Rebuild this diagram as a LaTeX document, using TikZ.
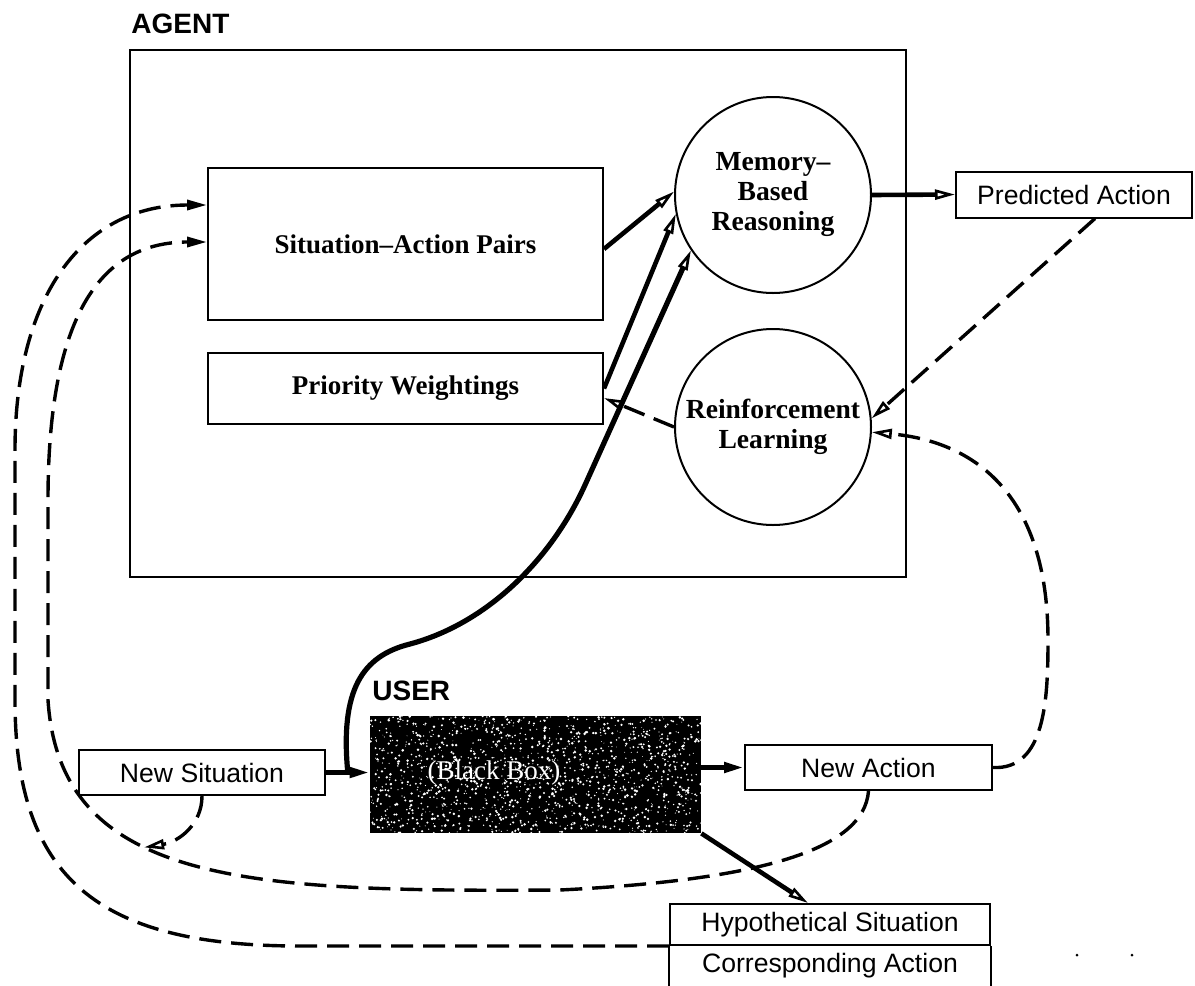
\documentclass[tikz,border=0pt]{standalone}
\usepackage{fontspec}
\setmainfont{Liberation Serif}
\newfontfamily\labelsans{Liberation Sans}
\usetikzlibrary{arrows.meta,calc}

\begin{document}
\begin{tikzpicture}[x=0.5pt,y=-0.5pt,
  frame/.style={draw,line width=1pt},
  sansbox/.style={frame,inner sep=0pt,font=\labelsans\fontsize{13.3}{16}\selectfont},
  serifbox/.style={frame,inner sep=0pt,font=\bfseries\fontsize{13.5}{16}\selectfont},
  proc/.style={frame,circle,inner sep=0pt,minimum size=98pt,align=center,
               font=\bfseries\fontsize{13.8}{15}\selectfont},
  heading/.style={anchor=base west,inner sep=0pt,font=\labelsans\bfseries\fontsize{14}{16}\selectfont},
  openhead/.tip={Triangle[open,length=10pt,width=5pt,line width=1.3pt]},
  fullhead/.tip={Triangle[length=10pt,width=5pt]},
  flow/.style={line width=2.3pt,-openhead},
  flowfilled/.style={line width=2.3pt,-fullhead},
  feedback/.style={line width=1.7pt,dash pattern=on 11pt off 5pt,-openhead},
  feedbackfilled/.style={line width=1.7pt,dash pattern=on 11pt off 5pt,-fullhead}
]
\useasboundingbox (0,0) rectangle (1195,986);

% ---------- agent ----------
\node[heading] (agentlbl) at (131,33) {AGENT};
\node[frame,inner sep=0pt,minimum width=388pt,minimum height=263.5pt] (agent) at (518,313.5) {};
\node[serifbox,minimum width=197.5pt,minimum height=76pt] (sa) at (405.5,244) {Situation\textendash Action Pairs};
\node[serifbox,minimum width=197.5pt,minimum height=35.5pt] (pw) at (405.5,388.5) {Priority Weightings};
\node[proc] (mbr) at (773,195) {Memory\textendash\\Based\\Reasoning};
\node[proc] (rl) at (773,427) {Reinforcement\\Learning};
\node[sansbox,minimum width=118pt,minimum height=23pt] (pa) at (1074,194.5) {Predicted Action};

% ---------- user ----------
\node[heading] (userlbl) at (372,700) {USER};
\node[fill=black,inner sep=0pt,minimum width=165.5pt,minimum height=58.5pt] (bb) at (535.5,774.5) {};
\pgfmathsetseed{7}
\begin{scope}
  \clip (bb.south west) rectangle (bb.north east);
  \foreach \k in {1,...,1500} {\fill[white] ({370+331*rnd},{716+117*rnd}) circle ({0.4+1.0*rnd});}
\end{scope}
\node[text=white,inner sep=0pt,font=\fontsize{13.5}{16}\selectfont] (bbtext) at (494,773) {(Black Box)};
\node[sansbox,minimum width=123pt,minimum height=22.5pt] (ns) at (202,772.5) {New Situation};
\node[sansbox,minimum width=123.5pt,minimum height=22.5pt] (na) at (868.5,767.5) {New Action};
\node[sansbox,minimum width=160pt,minimum height=20.5pt] (hc) at (830,924.5) {Hypothetical Situation};
\node[inner sep=0pt,font=\labelsans\fontsize{13.3}{16}\selectfont] (ca) at (830,966) {Corresponding Action};
\draw[line width=1pt] (hc.south west) -- (hc.south west |- 0,986);
\draw[line width=1pt] (hc.south east) -- (hc.south east |- 0,986);

% ---------- solid flows ----------
\draw[flow] ($(sa.east)+(0,5)$) -- (mbr.178);
\draw[flow] (pw.east) -- (mbr.191);
\coordinate (split) at ($(ns.east)!0.5!(ns.east -| bb.west)$);
\draw[flowfilled] (ns.east) -- (ns.east -| bb.west);
\draw[flow,line width=2.6pt] (split) .. controls (340,690) and (362,656) .. (410,644)
   .. controls (485,624) and (550,562) .. (585,485) -- (mbr.214);
\draw[flow] (mbr.east) -- (pa.west);
\draw[flowfilled] (bb.east |- na.west) -- (na.west);
\draw[flow] (bb.south east) -- (hc.north -| 808,0);

% ---------- dashed feedback ----------
\draw[feedback] ($(pa.south)+(21,0)$) -- (rl.5);
\draw[feedback] (na.east) .. controls (1045,770) and (1048,700) .. (1048,640)
   .. controls (1048,480) and (960,440) .. (rl.357);
\draw[feedback] (rl.west) -- ($(pw.east)+(0,9.5)$);
\draw[feedbackfilled] (na.south) .. controls (864,850) and (760,880) .. (560,890)
   .. controls (250,892) and (60,885) .. (48,700) coordinate[pos=0.6] (join)
   -- (48,500) .. controls (48,300) and (110,242) .. ($(sa.west)+(0,-2)$);
\draw[feedbackfilled] (hc.south west) -- (300,946) .. controls (100,946) and (15,880) .. (15,700)
   -- (15,450) .. controls (15,300) and (80,205) .. ($(sa.west)+(0,-39)$);
\draw[feedback] (ns.south) .. controls (202,825) and (178,842) .. (join);

% ---------- stray marks ----------
\fill (1077,955) circle (1.5);
\fill (1132,955) circle (1.5);
\end{tikzpicture}
\end{document}
